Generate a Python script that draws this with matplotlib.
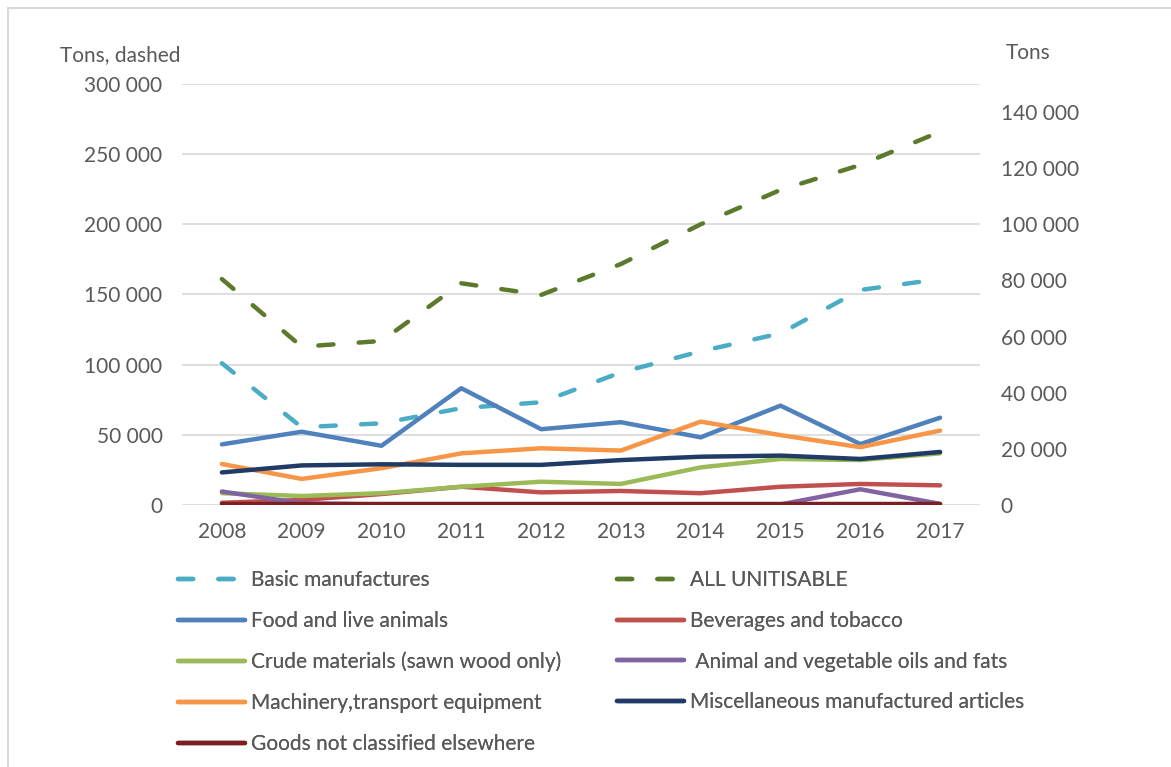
#!/usr/bin/env python3

"""
Tons by commodity group, 2008-2017: two dashed totals on the left axis,
the solid category lines on the right axis.
"""

import matplotlib

matplotlib.use("Agg")
import matplotlib.pyplot as plt
from matplotlib.lines import Line2D
from matplotlib.ticker import FuncFormatter, MultipleLocator

years = ["2008", "2009", "2010", "2011", "2012", "2013", "2014", "2015", "2016", "2017"]

# left axis (dashed)
basic_manufactures = [101000, 55400, 58200, 69000, 73200, 94500, 109500, 122300, 153200, 161000]
all_unitisable = [161000, 112800, 116900, 158000, 149700, 171700, 200000, 224500, 242300, 266000]

# right axis (solid)
food_animals = [21600, 26100, 21100, 41600, 27000, 29500, 24100, 35400, 21700, 31100]
beverages_tobacco = [800, 1800, 3900, 6500, 4500, 5000, 4200, 6500, 7500, 7000]
crude_materials = [4200, 3200, 4200, 6500, 8300, 7500, 13400, 16400, 16000, 18400]
oils_fats = [4800, 600, 200, 200, 200, 200, 200, 200, 5600, 400]
machinery = [14600, 9300, 13100, 18400, 20200, 19400, 29700, 24900, 20600, 26500]
misc_articles = [11600, 14100, 14500, 14300, 14300, 16000, 17200, 17600, 16400, 18900]
not_classified = [400, 400, 400, 400, 400, 400, 400, 400, 400, 400]

GREY = "#595959"
FONT = "Lato"
FS = 15
LW = 3.2
DASH = (3.4, 5.7)


def thousands(v, _pos):
    return f"{int(v):,}".replace(",", " ")


def main() -> None:
    plt.rcParams["font.family"] = [FONT, "DejaVu Sans"]
    fig = plt.figure(figsize=(11.71, 7.67), dpi=100)
    ax = fig.add_axes([0.1554, 0.3416, 0.6815, 0.5489])
    ax2 = ax.twinx()

    x = list(range(len(years)))

    dashed = [
        ("Basic manufactures", basic_manufactures, "#4BACC6"),
        ("ALL UNITISABLE", all_unitisable, "#5B7A2B"),
    ]
    solid = [
        ("Food and live animals", food_animals, "#4F81BD"),
        ("Beverages and tobacco", beverages_tobacco, "#C0504D"),
        ("Crude materials (sawn wood only)", crude_materials, "#9BBB59"),
        (" Animal and vegetable oils and fats", oils_fats, "#8064A2"),
        ("Machinery,transport equipment", machinery, "#F79646"),
        ("Miscellaneous manufactured articles", misc_articles, "#1F3B66"),
        ("Goods not classified elsewhere", not_classified, "#7B1F22"),
    ]

    handles = {}
    for label, vals, color in dashed:
        (ln,) = ax.plot(x, vals, color=color, lw=LW, dashes=DASH,
                        dash_capstyle="round", solid_capstyle="round")
        handles[label] = ln
    for label, vals, color in solid:
        (ln,) = ax2.plot(x, vals, color=color, lw=LW, solid_capstyle="round",
                         solid_joinstyle="round")
        handles[label] = ln

    ax.set_xlim(-0.5, len(years) - 0.5)
    ax.set_ylim(0, 300000)
    ax2.set_ylim(0, 150000)
    ax.yaxis.set_major_locator(MultipleLocator(50000))
    ax2.yaxis.set_major_locator(MultipleLocator(20000))
    ax.yaxis.set_major_formatter(FuncFormatter(thousands))
    ax2.yaxis.set_major_formatter(FuncFormatter(thousands))
    ax.set_xticks(x)
    ax.set_xticklabels(years)

    ax.grid(axis="y", color="#D9D9D9", lw=1.2)
    ax.set_axisbelow(True)
    for a in (ax, ax2):
        for s in a.spines.values():
            s.set_visible(False)
        a.tick_params(length=0, labelsize=FS, labelcolor=GREY)
    ax.tick_params(axis="y", pad=14)
    ax.tick_params(axis="x", pad=12)
    ax2.tick_params(axis="y", pad=15)
    ax2.set_ylim(0, 150000)

    fig.text(60 / 1171, 1 - 55 / 767, "Tons, dashed", fontsize=FS, color=GREY,
             va="center", ha="left")
    fig.text(1006 / 1171, 1 - 53 / 767, "Tons", fontsize=FS, color=GREY,
             va="center", ha="left")

    # two legend columns, placed separately
    col1 = ["Basic manufactures", "Food and live animals",
            "Crude materials (sawn wood only)", "Machinery,transport equipment",
            "Goods not classified elsewhere"]
    col2 = ["ALL UNITISABLE", "Beverages and tobacco",
            " Animal and vegetable oils and fats",
            "Miscellaneous manufactured articles"]
    for names, x0 in ((col1, 178), (col2, 617)):
        leg = fig.legend([handles[n] for n in names], names,
                         loc="upper left", bbox_to_anchor=(x0 / 1171, 1 - 570 / 767),
                         frameon=False, fontsize=FS, labelcolor=GREY,
                         handlelength=3.2, handletextpad=0.3, borderpad=0,
                         borderaxespad=0, labelspacing=1.0)
        fig.add_artist(leg)

    # chart frame (left and top edges only)
    fig.add_artist(Line2D([8 / 1171, 8 / 1171], [0, 1 - 8 / 767],
                          transform=fig.transFigure, color="#D9D9D9", lw=1.5))
    fig.add_artist(Line2D([8 / 1171, 1], [1 - 8 / 767, 1 - 8 / 767],
                          transform=fig.transFigure, color="#D9D9D9", lw=1.5))

    fig.savefig("out.png", dpi=100, facecolor="white")


if __name__ == "__main__":
    main()
